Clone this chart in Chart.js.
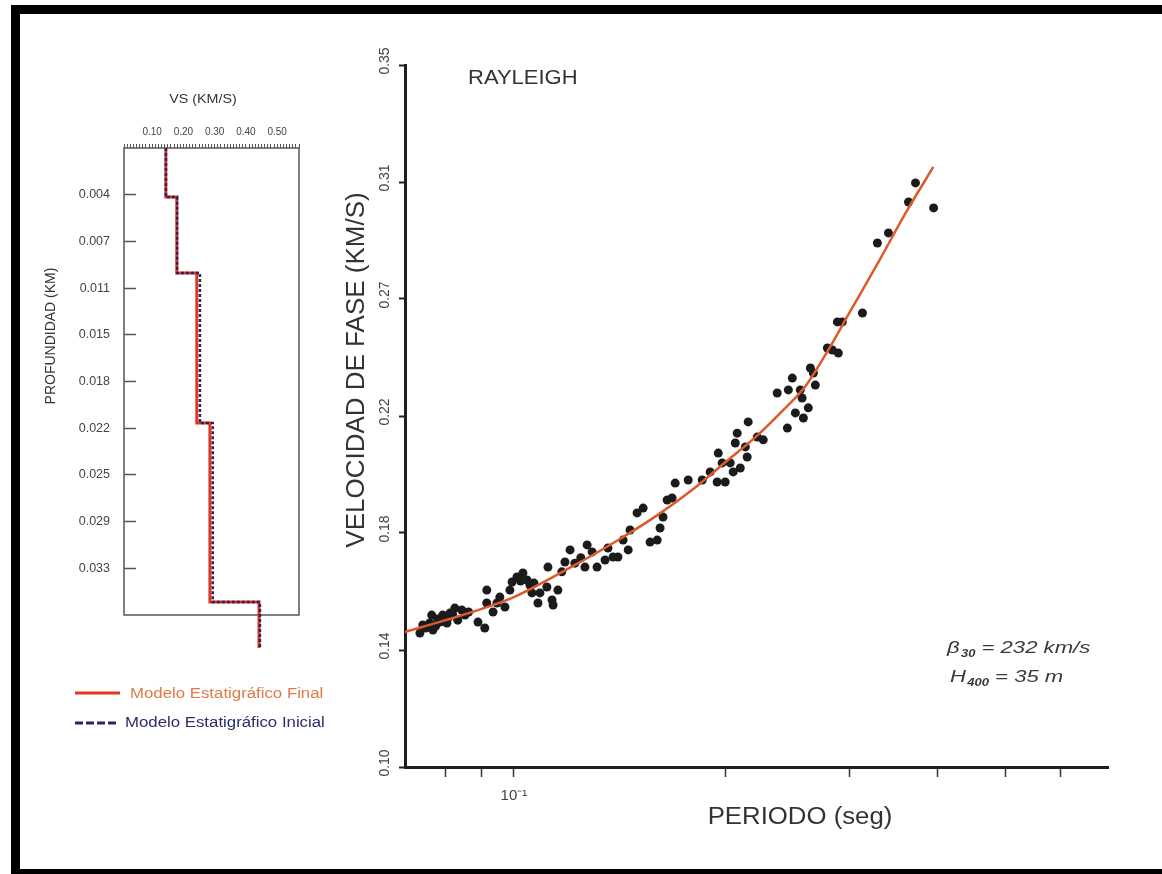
<!DOCTYPE html>
<html>
<head>
<meta charset="utf-8">
<title>Dispersión de ondas Rayleigh</title>
<script src="https://cdn.jsdelivr.net/npm/chart.js@4.4.1/dist/chart.umd.min.js"></script>
<style>
  html, body { margin: 0; padding: 0; background: #fff; overflow: hidden; }
  body { width: 1162px; height: 874px; position: relative; }
  #marco { position: absolute; left: 11px; top: 5px; width: 1200px; height: 855px;
           border-left: 9px solid #000; border-top: 9px solid #000; border-bottom: 9px solid #000; }
  canvas { position: absolute; }
  #perfil { left: 20px; top: 80px; }
  #dispersion { left: 330px; top: 30px; }
</style>
</head>
<body>
<div id="marco"></div>
<canvas id="perfil" width="310" height="660"></canvas>
<canvas id="dispersion" width="820" height="830"></canvas>
<script>
'use strict';

var FONT = '"Liberation Sans", Arial, Helvetica, sans-serif';

// --- perfil de velocidades (modelo estratigrafico) ---
var vsMin = 0.01, vsMax = 0.57;
var vsTicks = [0.10, 0.20, 0.30, 0.40, 0.50];
var vsTickLabels = ['0.10', '0.20', '0.30', '0.40', '0.50'];
var depthStep = 0.00367;
var depthTickLabels = ['0.004', '0.007', '0.011', '0.015', '0.018', '0.022', '0.025', '0.029', '0.033'];
var layerTop = [0, 0.00385, 0.00982, 0.02161, 0.03568];
var profileBottom = 0.03929;
var vsFinal = [0.144, 0.179, 0.243, 0.285, 0.442];
var vsInicial = [0.144, 0.180, 0.253, 0.294, 0.445];

// --- curva de dispersion ---
var periodMin = 0.07, periodMax = 0.7;
var periodTicks = [0.08, 0.09, 0.1, 0.2, 0.3, 0.4, 0.5, 0.6];
var velMin = 0.10, velMax = 0.35;
var velTickLabels = ['0.10', '0.14', '0.18', '0.22', '0.27', '0.31', '0.35'];

var obsPeriod = [
  0.0735, 0.0749, 0.0759, 0.0767, 0.0764, 0.0774, 0.0785, 0.0792, 0.0803, 0.0808,
  0.0811, 0.0824, 0.0832, 0.0843, 0.0852, 0.0889, 0.0909, 0.0915, 0.0915, 0.0934,
  0.0946, 0.0955, 0.0971, 0.0987, 0.0994, 0.1010, 0.1030, 0.1044, 0.1054, 0.1061,
  0.1082, 0.1089, 0.1114, 0.1118, 0.1133, 0.1137, 0.1155, 0.1182, 0.1202, 0.1221,
  0.1262, 0.1271, 0.1292, 0.1313, 0.1348, 0.1361, 0.1384, 0.1406, 0.1430, 0.1454,
  0.1463, 0.1497, 0.1527, 0.1562, 0.1599, 0.1614, 0.1630, 0.1652, 0.1679, 0.1696,
  0.1770, 0.1853, 0.1902, 0.1946, 0.1953, 0.1978, 0.1998, 0.2031, 0.2051, 0.2065,
  0.2078, 0.2099, 0.2134, 0.2147, 0.2154, 0.2219, 0.2263, 0.2369, 0.2449, 0.2457,
  0.2489, 0.2514, 0.2555, 0.2570, 0.2581, 0.2623, 0.2641, 0.2667, 0.2684, 0.2792,
  0.2838, 0.2894, 0.2885, 0.2932, 0.3132, 0.3289, 0.3410, 0.3642, 0.3726, 0.3954,
  0.0742, 0.0779, 0.0818, 0.0862, 0.1022, 0.1068, 0.1170, 0.1245
];
var obsVel = [
  0.1477, 0.1495, 0.1513, 0.1488, 0.1541, 0.1502, 0.1516, 0.1541, 0.1513, 0.1534,
  0.1548, 0.1566, 0.1523, 0.1559, 0.1541, 0.1516, 0.1495, 0.1630, 0.1584, 0.1552,
  0.1584, 0.1605, 0.1570, 0.1630, 0.1659, 0.1677, 0.1691, 0.1666, 0.1648, 0.1620,
  0.1584, 0.1620, 0.1641, 0.1712, 0.1595, 0.1577, 0.1630, 0.1730, 0.1773, 0.1726,
  0.1712, 0.1791, 0.1766, 0.1712, 0.1737, 0.1780, 0.1748, 0.1748, 0.1808, 0.1773,
  0.1844, 0.1905, 0.1922, 0.1801, 0.1808, 0.1851, 0.1890, 0.1951, 0.1958, 0.2011,
  0.2022, 0.2022, 0.2051, 0.2015, 0.2118, 0.2083, 0.2015, 0.2083, 0.2051, 0.2154,
  0.2189, 0.2065, 0.2140, 0.2104, 0.2229, 0.2175, 0.2165, 0.2332, 0.2207, 0.2343,
  0.2385, 0.2261, 0.2343, 0.2314, 0.2243, 0.2279, 0.2421, 0.2403, 0.2360, 0.2492,
  0.2485, 0.2474, 0.2585, 0.2585, 0.2617, 0.2866, 0.2902, 0.3012, 0.3080, 0.2991,
  0.1506, 0.1527, 0.1544, 0.1552, 0.1662, 0.1655, 0.1695, 0.1745
];

var fitPeriod = [0.07, 0.08, 0.09, 0.10, 0.12, 0.14, 0.16, 0.18, 0.20, 0.22, 0.24, 0.26, 0.28, 0.30, 0.33, 0.36, 0.395];
var fitVel = [0.1481, 0.1523, 0.1563, 0.1605, 0.1709, 0.1805, 0.1897, 0.1990, 0.2086, 0.2172, 0.2264, 0.2357, 0.2485, 0.2617, 0.2798, 0.2969, 0.3137];

// texto con estiramiento horizontal
function texto(ctx, str, x, y, font, color, align, sx) {
  ctx.save();
  ctx.translate(x, y);
  ctx.scale(sx || 1, 1);
  ctx.font = font;
  ctx.fillStyle = color;
  ctx.textAlign = align || 'left';
  ctx.textBaseline = 'alphabetic';
  ctx.fillText(str, 0, 0);
  ctx.restore();
}

function textoVertical(ctx, str, x, y, font, color) {
  ctx.save();
  ctx.translate(x, y);
  ctx.rotate(-Math.PI / 2);
  ctx.font = font;
  ctx.fillStyle = color;
  ctx.textAlign = 'center';
  ctx.textBaseline = 'alphabetic';
  ctx.fillText(str, 0, 0);
  ctx.restore();
}

// simbolo con subindice, p.ej. beta_30
function textoIndice(ctx, base, sub, resto, x, y, sx) {
  ctx.save();
  ctx.translate(x, y);
  ctx.scale(sx, 1);
  ctx.fillStyle = '#3a3a3a';
  ctx.textBaseline = 'alphabetic';
  ctx.font = 'italic 17px ' + FONT;
  ctx.fillText(base, 0, 0);
  var w = ctx.measureText(base).width + 1;
  ctx.font = 'italic bold 10px ' + FONT;
  ctx.fillText(sub, w, 4);
  w += ctx.measureText(sub).width;
  ctx.font = 'italic 17px ' + FONT;
  ctx.fillText(resto, w, 0);
  ctx.restore();
}

function escalones(vs) {
  var pts = [];
  for (var i = 0; i < vs.length; i++) {
    var base = i + 1 < layerTop.length ? layerTop[i + 1] : profileBottom;
    pts.push({x: vs[i], y: layerTop[i]});
    pts.push({x: vs[i], y: base});
  }
  return pts;
}

var marcoPerfil = {
  id: 'marcoPerfil',
  beforeDatasetsDraw: function (chart) {
    var a = chart.chartArea, ctx = chart.ctx;
    ctx.save();
    ctx.strokeStyle = '#555';
    ctx.lineWidth = 1.5;
    ctx.strokeRect(a.left, a.top, a.right - a.left, a.bottom - a.top);
    ctx.restore();
  },
  afterDraw: function (chart) {
    var ctx = chart.ctx;
    texto(ctx, 'VS (KM/S)', 183, 23, '13px ' + FONT, '#333', 'center', 1.1);
    textoVertical(ctx, 'PROFUNDIDAD (KM)', 35, 256, '14px ' + FONT, '#333');

    // leyenda
    ctx.save();
    ctx.lineWidth = 3;
    ctx.strokeStyle = '#e4341c';
    ctx.beginPath(); ctx.moveTo(55, 613); ctx.lineTo(100, 613); ctx.stroke();
    ctx.strokeStyle = '#26265e';
    ctx.setLineDash([8, 3]);
    ctx.beginPath(); ctx.moveTo(55, 643); ctx.lineTo(98, 643); ctx.stroke();
    ctx.restore();
    texto(ctx, 'Modelo Estatigráfico Final', 110, 618, '14px ' + FONT, '#e07a48', 'left', 1.2);
    texto(ctx, 'Modelo Estatigráfico Inicial', 105, 647, '14px ' + FONT, '#2b2d6e', 'left', 1.2);
  }
};

new Chart(document.getElementById('perfil'), {
  type: 'scatter',
  data: {
    datasets: [
      { data: escalones(vsInicial), showLine: true, borderColor: '#26265e', borderWidth: 2.5,
        borderDash: [3, 2], pointRadius: 0, clip: false, tension: 0 },
      { data: escalones(vsFinal), showLine: true, borderColor: '#e4341c', borderWidth: 3,
        pointRadius: 0, clip: false, tension: 0 }
    ]
  },
  options: {
    responsive: false,
    animation: false,
    devicePixelRatio: 1,
    events: [],
    layout: { padding: { top: 0, left: 0, right: 31, bottom: 125 } },
    plugins: { legend: { display: false }, tooltip: { enabled: false } },
    scales: {
      x: {
        type: 'linear', position: 'top', min: vsMin, max: vsMax,
        afterBuildTicks: function (s) {
          var t = [];
          for (var k = 1; k <= 57; k++) t.push({ value: k / 100 });
          s.ticks = t;
        },
        afterFit: function (s) { s.height = 68; },
        ticks: {
          autoSkip: false, minRotation: 0, maxRotation: 0, padding: 6, color: '#444',
          font: { family: FONT, size: 10 },
          callback: function (v) {
            var i = vsTicks.findIndex(function (t) { return Math.abs(t - v) < 1e-6; });
            return i < 0 ? '' : vsTickLabels[i];
          }
        },
        grid: { drawOnChartArea: false, tickLength: 4, tickWidth: 1, tickColor: '#555' },
        border: { display: false }
      },
      y: {
        type: 'linear', reverse: true, min: 0, max: depthStep * 10,
        afterBuildTicks: function (s) {
          s.ticks = depthTickLabels.map(function (l, i) { return { value: (i + 1) * depthStep }; });
        },
        afterFit: function (s) { s.width = 104; },
        ticks: {
          autoSkip: false, padding: 26, color: '#444', font: { family: FONT, size: 12.5 },
          callback: function (v, i) { return depthTickLabels[i]; }
        },
        grid: { drawOnChartArea: false, tickLength: -12, tickWidth: 1.5, tickColor: '#555' },
        border: { display: false }
      }
    }
  },
  plugins: [marcoPerfil]
});

var rotulos = {
  id: 'rotulos',
  afterDraw: function (chart) {
    var ctx = chart.ctx;
    texto(ctx, 'RAYLEIGH', 138, 54, '20px ' + FONT, '#333', 'left', 1.1);
    texto(ctx, 'PERIODO (seg)', 470, 794, '23px ' + FONT, '#333', 'center', 1.12);
    textoVertical(ctx, 'VELOCIDAD DE FASE (KM/S)', 34, 340, '26px ' + FONT, '#333');
    textoIndice(ctx, 'β', '30', ' = 232 km/s', 617, 623, 1.3);
    textoIndice(ctx, 'H', '400', ' = 35 m', 620, 652, 1.3);
  }
};

new Chart(document.getElementById('dispersion'), {
  type: 'scatter',
  data: {
    datasets: [
      { data: fitPeriod.map(function (p, i) { return { x: p, y: fitVel[i] }; }),
        showLine: true, borderColor: '#dd5a2c', borderWidth: 2.5, pointRadius: 0,
        cubicInterpolationMode: 'monotone' },
      { data: obsPeriod.map(function (p, i) { return { x: p, y: obsVel[i] }; }),
        pointRadius: 4.5, backgroundColor: '#1b1b1b', borderWidth: 0 }
    ]
  },
  options: {
    responsive: false,
    animation: false,
    devicePixelRatio: 1,
    events: [],
    layout: { padding: { top: 35, left: 0, right: 42, bottom: 0 } },
    plugins: { legend: { display: false }, tooltip: { enabled: false } },
    scales: {
      x: {
        type: 'logarithmic', min: periodMin, max: periodMax,
        afterBuildTicks: function (s) {
          s.ticks = periodTicks.map(function (v) { return { value: v }; });
        },
        afterFit: function (s) { s.height = 93; },
        ticks: {
          autoSkip: false, minRotation: 0, maxRotation: 0, padding: 10, color: '#444',
          font: { family: FONT, size: 15 },
          callback: function (v) { return Math.abs(v - 0.1) < 1e-9 ? '10⁻¹' : ''; }
        },
        grid: { drawOnChartArea: false, tickLength: 10, tickWidth: 1.5, tickColor: '#333' },
        border: { display: true, color: '#1e1e1e', width: 3 }
      },
      y: {
        type: 'linear', min: velMin, max: velMax,
        afterBuildTicks: function (s) {
          var n = velTickLabels.length - 1;
          s.ticks = velTickLabels.map(function (l, i) { return { value: velMin + i * (velMax - velMin) / n }; });
        },
        afterFit: function (s) { s.width = 75; },
        ticks: {
          autoSkip: false, minRotation: 90, maxRotation: 90, crossAlign: 'center',
          padding: 0, labelOffset: -4, color: '#444', font: { family: FONT, size: 14 },
          callback: function (v, i) { return velTickLabels[i]; }
        },
        grid: { drawOnChartArea: false, tickLength: 6, tickWidth: 2, tickColor: '#1e1e1e' },
        border: { display: true, color: '#1e1e1e', width: 3 }
      }
    }
  },
  plugins: [rotulos]
});
</script>
</body>
</html>
